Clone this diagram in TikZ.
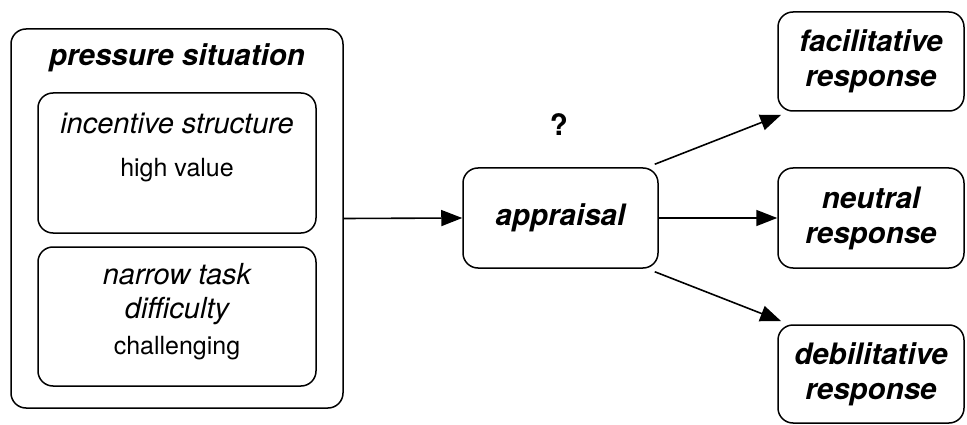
\documentclass[tikz,border=0pt]{standalone}
\usepackage{fontspec}
\setmainfont{TeX Gyre Heros}
\usetikzlibrary{arrows.meta}
\tikzset{
  box/.style={draw, line width=1.5pt, rounded corners=15pt, inner sep=0pt},
  bigtxt/.style={font=\fontsize{29.5}{35}\selectfont\bfseries\itshape, align=center, inner sep=0pt},
  midtxt/.style={font=\fontsize{29}{34}\selectfont\itshape, align=center, inner sep=0pt},
  smalltxt/.style={font=\fontsize{25}{30}\selectfont, align=center, inner sep=0pt},
  conn/.style={line width=1.6pt, -{Triangle[length=21pt,width=16pt]}}
}
\begin{document}
\begin{tikzpicture}[x=1pt, y=-1pt]
\useasboundingbox (0,0) rectangle (967,425);
% left group
\node[box, minimum width=332pt, minimum height=379pt] (outer) at (177,218.5) {};
\node[bigtxt] (ptitle) at (177,58) {pressure situation};
\node[box, minimum width=278pt, minimum height=140pt] (inc) at (177,163) {};
\node[midtxt] (inctxt) at (177,123) {incentive structure};
\node[smalltxt] (hv) at (177,170) {high value};
\node[box, minimum width=278pt, minimum height=139pt] (nar) at (177,316.5) {};
\node[midtxt] (nartxt) at (177,294) {narrow task\\difficulty};
\node[smalltxt] (ch) at (177,348) {challenging};
% appraisal
\node[box, minimum width=195pt, minimum height=100pt, bigtxt, line width=1.5pt] (appr) at (560.5,218) {appraisal};
\node[font=\fontsize{29.5}{35}\selectfont\bfseries, inner sep=0pt] (q) at (559,125) {?};
% responses
\node[box, minimum width=186pt, minimum height=99pt, bigtxt, line width=1.5pt] (fac) at (871,61.5) {facilitative\\response};
\node[box, minimum width=186pt, minimum height=100pt, bigtxt, line width=1.5pt] (neu) at (871,218) {neutral\\response};
\node[box, minimum width=186pt, minimum height=98pt, bigtxt, line width=1.5pt] (deb) at (871,374) {debilitative\\response};
% connectors
\draw[conn] (outer.east) -- (appr.west);
\draw[conn] ([shift={(-4pt,3pt)}]appr.north east) -- ([shift={(4pt,-3pt)}]fac.south west);
\draw[conn] (appr.east) -- (neu.west);
\draw[conn] ([shift={(-4pt,-3pt)}]appr.south east) -- ([shift={(4pt,3pt)}]deb.north west);
\end{tikzpicture}
\end{document}
